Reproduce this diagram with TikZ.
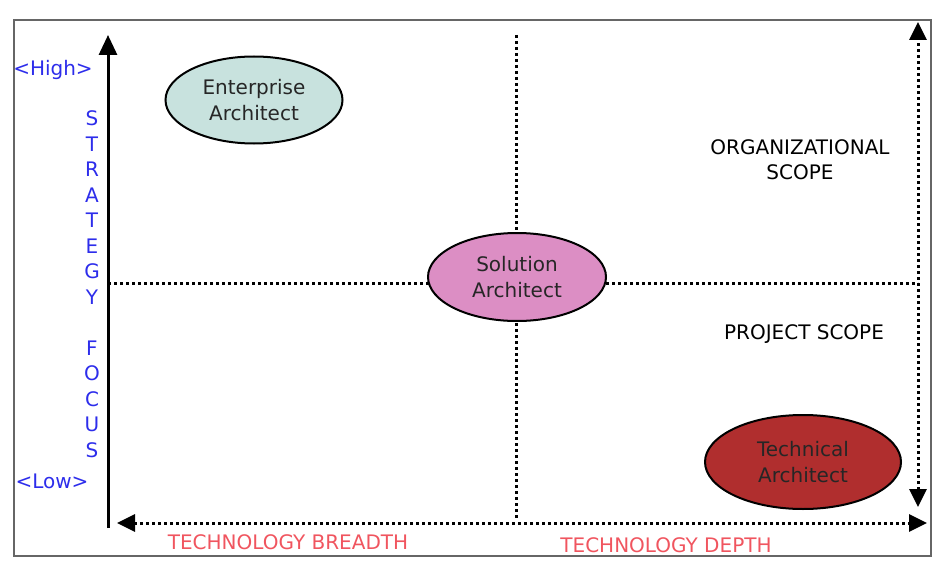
\documentclass[tikz,border=0pt]{standalone}
\usepackage{fontspec}
\setmainfont{DejaVu Sans}
\usetikzlibrary{shapes.geometric, arrows.meta, positioning}

\definecolor{focusblue}{RGB}{45,45,235}
\definecolor{techred}{RGB}{240,85,95}
\definecolor{entfill}{RGB}{200,226,222}
\definecolor{solfill}{RGB}{220,142,196}
\definecolor{tecfill}{RGB}{176,46,46}

\begin{document}
\begin{tikzpicture}[x=1pt, y=-1pt, font=\fontsize{20}{24}\selectfont]

\tikzstyle{rolebox} = [ellipse, draw=black, line width=2pt, text centered, align=center, inner sep=0pt, text=black!85, font=\fontsize{20}{26}\selectfont]
\tikzstyle{axisline} = [line width=3pt, -{Triangle[length=20pt,width=18pt]}]
\tikzstyle{spanline} = [line width=3pt, dash pattern=on 3pt off 3pt, {Triangle[length=18pt,width=17pt]}-{Triangle[length=18pt,width=17pt]}]
\tikzstyle{dividerline} = [line width=3pt, dash pattern=on 3pt off 3pt]
\tikzstyle{focustext} = [text=focusblue]
\tikzstyle{techtext} = [text=techred]

\useasboundingbox (0,0) rectangle (947,567);
\draw [line width=1.5pt, black!60] (14,20) rectangle (931,556);

% axis ends
\coordinate (origin) at (108,528);
\coordinate (top) at (108,35);
\coordinate (left) at (117,523);
\coordinate (right) at (927,523);
\coordinate (scopetop) at (918,22);
\coordinate (scopebot) at (918,507);
\coordinate (midtop) at (516,35);
\coordinate (midbot) at (516,520);
\coordinate (midleft) at (108,283);
\coordinate (midright) at (918,283);

\draw [dividerline] (midtop) -- (midbot);
\draw [dividerline] (midleft) -- (midright);
\draw [axisline] (origin) -- (top);
\draw [spanline] (left) -- (right);
\draw [spanline] (scopebot) -- (scopetop);

\node (ent) [rolebox, fill=entfill, minimum width=177pt, minimum height=87pt] at (254,100) {Enterprise\\Architect};
\node (sol) [rolebox, fill=solfill, minimum width=178pt, minimum height=88pt] at (517,277) {Solution\\Architect};
\node (tec) [rolebox, fill=tecfill, minimum width=196pt, minimum height=94pt] at (803,462) {Technical\\Architect};

\node (high) [focustext] at (53,70) {<High>};
\node (low) [focustext] at (52,481) {<Low>};
\node (strat) [focustext, align=center, font=\fontsize{20}{25.5}\selectfont] at (92,284) {S\\T\\R\\A\\T\\E\\G\\Y\\[25.5pt]F\\O\\C\\U\\S};

\node (org) [align=center, font=\fontsize{20}{25}\selectfont] at (800,160) {ORGANIZATIONAL\\SCOPE};
\node (proj) at (804,334) {PROJECT SCOPE};

\node (breadth) [techtext] at (288,542) {TECHNOLOGY BREADTH};
\node (depth) [techtext] at (666,545) {TECHNOLOGY DEPTH};
\end{tikzpicture}
\end{document}
